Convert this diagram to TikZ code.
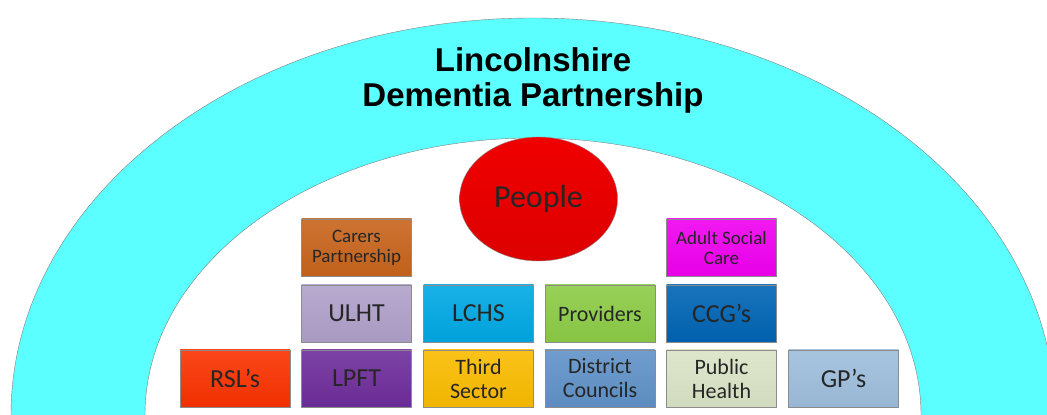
\documentclass[tikz,border=0pt]{standalone}
\usepackage{fontspec}
\usetikzlibrary{shapes.geometric}
\setmainfont{Carlito}
\newfontfamily\titlefont{Liberation Sans}

\definecolor{archcyan}{RGB}{92,255,255}
\definecolor{peoplered}{RGB}{240,0,0}
\definecolor{carers}{RGB}{200,100,28}
\definecolor{asc}{RGB}{240,0,240}
\definecolor{ulht}{RGB}{176,160,202}
\definecolor{lchs}{RGB}{0,168,228}
\definecolor{providers}{RGB}{140,204,70}
\definecolor{ccg}{RGB}{0,100,180}
\definecolor{rsl}{RGB}{250,50,0}
\definecolor{lpft}{RGB}{110,45,155}
\definecolor{third}{RGB}{250,188,0}
\definecolor{district}{RGB}{96,146,200}
\definecolor{publichealth}{RGB}{218,228,198}
\definecolor{gp}{RGB}{158,190,220}

\begin{document}
\begin{tikzpicture}[x=1pt,y=1pt,
    org/.style={rectangle,draw=black!45,minimum width=110pt,minimum height=57pt,
        inner sep=1pt,align=center,top color=#1!90!white,bottom color=#1!96!black,
        text=black!85,font=\fontsize{26}{28}\selectfont},
    twoline/.style={font=\fontsize{22}{24}\selectfont},
    smallline/.style={font=\fontsize{19}{20}\selectfont}]
    \useasboundingbox (0,0) rectangle (1047,415);
    \clip (0,0) rectangle (1047,415);

    % the partnership arch
    \fill[archcyan] (11,0) arc[start angle=180,end angle=0,x radius=522pt,y radius=397pt]
        -- (921,0) arc[start angle=0,end angle=180,x radius=388pt,y radius=277pt] -- cycle;
    \draw[black!50] (11,0) arc[start angle=180,end angle=0,x radius=522pt,y radius=397pt];
    \draw[black!50] (921,0) arc[start angle=0,end angle=180,x radius=388pt,y radius=277pt];

    \node[font=\titlefont\bfseries\fontsize{33}{35}\selectfont,align=center] (T) at (533,334.5)
        {Lincolnshire\\Dementia Partnership};

    \node[ellipse,draw=black!45,minimum width=158pt,minimum height=124pt,
        top color=peoplered,bottom color=peoplered!92!black,text=black!85,
        font=\fontsize{32}{34}\selectfont] (P) at (538.5,216) {People};

    % top row
    \node[org=carers,smallline] (CP) at (356.5,167.5) {Carers\\Partnership};
    \node[org=asc,smallline] (ASC) at (721.5,167.5) {Adult Social\\Care};

    % middle row
    \node[org=ulht] (ULHT) at (356.5,101.5) {ULHT};
    \node[org=lchs] (LCHS) at (478.5,101.5) {LCHS};
    \node[org=providers,twoline] (PR) at (600,101.5) {Providers};
    \node[org=ccg] (CCG) at (721.5,101.5) {CCG’s};

    % bottom row
    \node[org=rsl] (RSL) at (235,36.5) {RSL’s};
    \node[org=lpft] (LPFT) at (356.5,36.5) {LPFT};
    \node[org=third,twoline] (TS) at (478.5,36.5) {Third\\Sector};
    \node[org=district,twoline] (DC) at (600,36.5) {District\\Councils};
    \node[org=publichealth,twoline] (PH) at (721.5,36.5) {Public\\Health};
    \node[org=gp] (GP) at (843.5,36.5) {GP’s};
\end{tikzpicture}
\end{document}
